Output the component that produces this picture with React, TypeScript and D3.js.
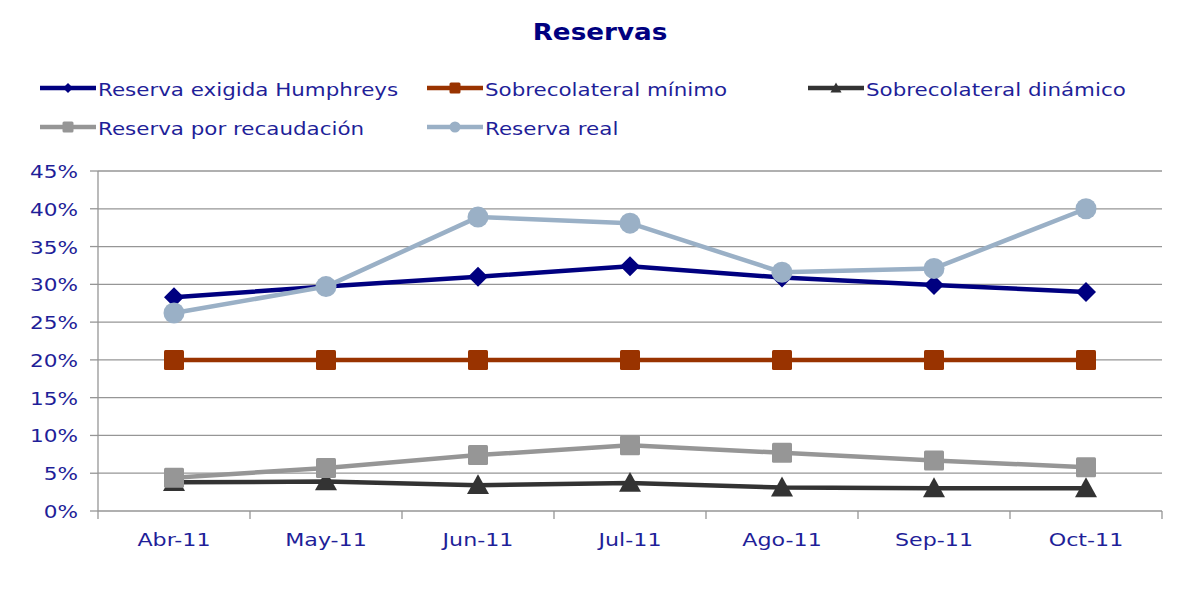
import React from "react";
import * as d3 from "d3";

const categories = ["Abr-11", "May-11", "Jun-11", "Jul-11", "Ago-11", "Sep-11", "Oct-11"];
const humphreys = [28.3, 29.7, 31.0, 32.4, 30.9, 29.9, 29.0];
const minimo = [20, 20, 20, 20, 20, 20, 20];
const dinamico = [3.8, 3.9, 3.4, 3.7, 3.1, 3.0, 3.0];
const recaudacion = [4.4, 5.7, 7.4, 8.7, 7.7, 6.7, 5.8];
const real = [26.2, 29.7, 38.9, 38.1, 31.6, 32.1, 40.0];
const yTicks = [0, 5, 10, 15, 20, 25, 30, 35, 40, 45];

type Series = { name: string; values: number[]; color: string; marker: string };
const series: Series[] = [
  { name: "Reserva exigida Humphreys", values: humphreys, color: "#000080", marker: "diamond" },
  { name: "Sobrecolateral mínimo", values: minimo, color: "#993300", marker: "square" },
  { name: "Sobrecolateral dinámico", values: dinamico, color: "#333333", marker: "triangle" },
  { name: "Reserva por recaudación", values: recaudacion, color: "#969696", marker: "square" },
  { name: "Reserva real", values: real, color: "#9AB0C6", marker: "circle" },
];

const W = 1182, H = 592;
const left = 98, right = 1162, top = 171, bottom = 511;
const textColor = "#1f1f99";
const font = "'DejaVu Sans', Verdana, sans-serif";

function Marker({ type, x, y, color, s }: { type: string; x: number; y: number; color: string; s: number }) {
  if (type === "diamond") {
    return <path d={`M${x},${y - s}L${x + s},${y}L${x},${y + s}L${x - s},${y}Z`} fill={color} />;
  }
  if (type === "square") {
    return <rect x={x - s} y={y - s} width={2 * s} height={2 * s} rx={1.5} fill={color} />;
  }
  if (type === "triangle") {
    return <path d={`M${x},${y - s}L${x + s},${y + s * 0.8}L${x - s},${y + s * 0.8}Z`} fill={color} />;
  }
  return <circle cx={x} cy={y} r={s} fill={color} />;
}

const markerSize: Record<string, number> = { diamond: 10, square: 10, triangle: 11, circle: 10.5 };

export default function App() {
  const x = d3.scaleBand<string>().domain(categories).range([left, right]);
  const y = d3.scaleLinear().domain([0, 45]).range([bottom, top]);
  const line = d3.line<number>().x((_, i) => x(categories[i])! + x.bandwidth() / 2).y((v) => y(v));

  const legendPos = [
    { lx: 40, ly: 88 },
    { lx: 427, ly: 88 },
    { lx: 808, ly: 88 },
    { lx: 40, ly: 127 },
    { lx: 427, ly: 127 },
  ];

  return (
    <svg width={W} height={H} style={{ position: "absolute", left: 0, top: 0, background: "#fff" }} fontFamily={font}>
      <rect width={W} height={H} fill="#fff" />
      <text transform="translate(600,40) scale(1.14,1)" textAnchor="middle" fontSize={23} fontWeight="bold" fill="#000080">Reservas</text>
      {series.map((s, i) => {
        const { lx, ly } = legendPos[i];
        return (
          <g key={s.name}>
            <line x1={lx} x2={lx + 56} y1={ly} y2={ly} stroke={s.color} strokeWidth={4.5} />
            <Marker type={s.marker} x={lx + 28} y={ly} color={s.color} s={s.marker === "diamond" ? 5 : 5.5} />
            <text transform={`translate(${lx + 58},${ly + 7.5}) scale(1.19,1)`} fontSize={18} fill={textColor}>{s.name}</text>
          </g>
        );
      })}
      {yTicks.map((t) => (
        <g key={t}>
          <line x1={left} x2={right} y1={y(t)} y2={y(t)} stroke="#969696" strokeWidth={1.3} />
          <line x1={left - 8} x2={left} y1={y(t)} y2={y(t)} stroke="#969696" strokeWidth={1.3} />
          <text transform={`translate(78,${y(t) + 7}) scale(1.2,1)`} textAnchor="end" fontSize={18} fill={textColor}>{t}%</text>
        </g>
      ))}
      <line x1={left} x2={left} y1={top} y2={bottom} stroke="#969696" strokeWidth={1.3} />
      {categories.map((c) => (
        <g key={c}>
          <line x1={x(c)!} x2={x(c)!} y1={bottom} y2={bottom + 8} stroke="#969696" strokeWidth={1.3} />
          <text transform={`translate(${x(c)! + x.bandwidth() / 2},546) scale(1.2,1)`} textAnchor="middle" fontSize={18.5} fill={textColor}>{c}</text>
        </g>
      ))}
      <line x1={right} x2={right} y1={bottom} y2={bottom + 8} stroke="#969696" strokeWidth={1.3} />
      {series.map((s) => (
        <g key={s.name}>
          <path d={line(s.values)!} fill="none" stroke={s.color} strokeWidth={4.5} strokeLinejoin="round" />
          {s.values.map((v, i) => (
            <Marker key={i} type={s.marker} x={x(categories[i])! + x.bandwidth() / 2} y={y(v)} color={s.color} s={markerSize[s.marker]} />
          ))}
        </g>
      ))}
    </svg>
  );
}
